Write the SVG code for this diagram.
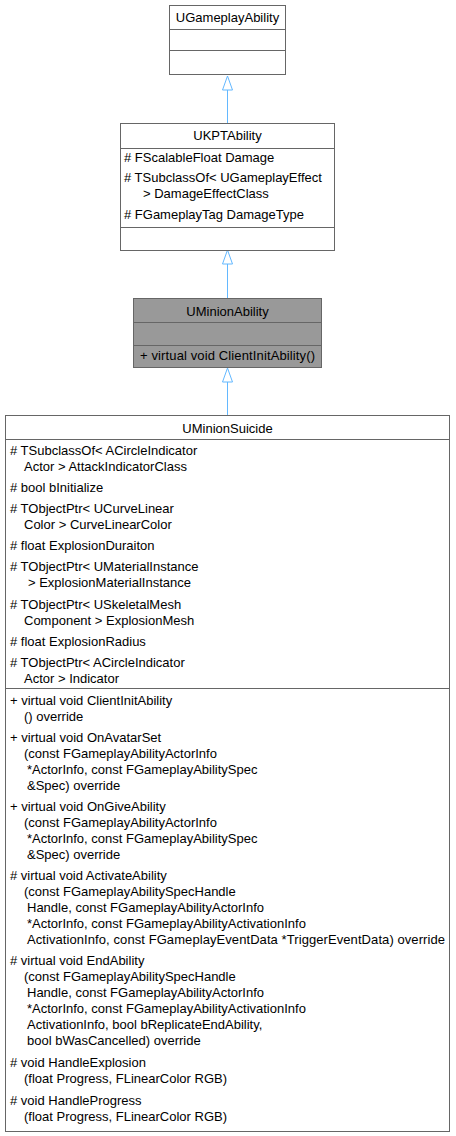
<svg xmlns="http://www.w3.org/2000/svg" width="456" height="1136" viewBox="0 0 456 1136">
<style>
.box{fill:#ffffff;stroke:#666666;stroke-width:1}
.boxg{fill:#999999;stroke:#666666;stroke-width:1}
.sep{stroke:#666666;stroke-width:1;fill:none}
text{font-family:"Liberation Sans",Arial,sans-serif;font-size:13px;fill:#000000}
.c{text-anchor:middle}
.edge{stroke:#63b8ff;stroke-width:1;fill:none}
.head{fill:#ffffff;stroke:#63b8ff;stroke-width:1}
</style>
<rect width="456" height="1136" fill="#ffffff"/>
<g id="connectors">
<line class="edge" x1="227.5" y1="90" x2="227.5" y2="123"/>
<polygon class="head" points="227.5,76 222.5,90 232.5,90"/>
<line class="edge" x1="227.5" y1="264" x2="227.5" y2="298"/>
<polygon class="head" points="227.5,250 222.5,264 232.5,264"/>
<line class="edge" x1="227.5" y1="382" x2="227.5" y2="415"/>
<polygon class="head" points="227.5,368 222.5,382 232.5,382"/>
</g>
<g id="UGameplayAbility">
<rect class="box" x="169.5" y="5.5" width="116" height="69"/>
<line class="sep" x1="169.5" y1="29.5" x2="285.5" y2="29.5"/>
<line class="sep" x1="169.5" y1="50.5" x2="285.5" y2="50.5"/>
<text class="c" x="227.5" y="22">UGameplayAbility</text>
</g>
<g id="UKPTAbility">
<rect class="box" x="120.5" y="123.5" width="214" height="127"/>
<line class="sep" x1="120.5" y1="148.5" x2="334.5" y2="148.5"/>
<line class="sep" x1="120.5" y1="227.5" x2="334.5" y2="227.5"/>
<text class="c" x="227.5" y="140">UKPTAbility</text>
<text x="124" y="162"># FScalableFloat Damage</text>
<text x="124" y="182"># TSubclassOf&lt; UGameplayEffect</text>
<text x="143" y="198">&gt; DamageEffectClass</text>
<text x="124" y="219"># FGameplayTag DamageType</text>
</g>
<g id="UMinionAbility">
<rect class="boxg" x="133.5" y="298.5" width="188" height="69"/>
<line class="sep" x1="133.5" y1="322.5" x2="321.5" y2="322.5"/>
<line class="sep" x1="133.5" y1="345.5" x2="321.5" y2="345.5"/>
<text class="c" x="227.5" y="316">UMinionAbility</text>
<text x="140" y="360" textLength="175">+ virtual void ClientInitAbility()</text>
</g>
<g id="UMinionSuicide">
<rect class="box" x="5.5" y="415.5" width="444" height="716"/>
<line class="sep" x1="5.5" y1="439.5" x2="449.5" y2="439.5"/>
<line class="sep" x1="5.5" y1="688.5" x2="449.5" y2="688.5"/>
<text class="c" x="227.5" y="433">UMinionSuicide</text>
<text x="10" y="455"># TSubclassOf&lt; ACircleIndicator</text>
<text x="24" y="471">Actor &gt; AttackIndicatorClass</text>
<text x="10" y="492"># bool bInitialize</text>
<text x="10" y="513"># TObjectPtr&lt; UCurveLinear</text>
<text x="24" y="529">Color &gt; CurveLinearColor</text>
<text x="10" y="550"># float ExplosionDuraiton</text>
<text x="10" y="571"># TObjectPtr&lt; UMaterialInstance</text>
<text x="28" y="587">&gt; ExplosionMaterialInstance</text>
<text x="10" y="609"># TObjectPtr&lt; USkeletalMesh</text>
<text x="24" y="625">Component &gt; ExplosionMesh</text>
<text x="10" y="646"># float ExplosionRadius</text>
<text x="10" y="667"># TObjectPtr&lt; ACircleIndicator</text>
<text x="24" y="683">Actor &gt; Indicator</text>
<text x="10" y="705">+ virtual void ClientInitAbility</text>
<text x="24" y="721">() override</text>
<text x="10" y="742">+ virtual void OnAvatarSet</text>
<text x="24" y="758">(const FGameplayAbilityActorInfo</text>
<text x="27" y="774">*ActorInfo, const FGameplayAbilitySpec</text>
<text x="27" y="790">&amp;Spec) override</text>
<text x="10" y="811">+ virtual void OnGiveAbility</text>
<text x="24" y="827">(const FGameplayAbilityActorInfo</text>
<text x="27" y="843">*ActorInfo, const FGameplayAbilitySpec</text>
<text x="27" y="859">&amp;Spec) override</text>
<text x="10" y="880"># virtual void ActivateAbility</text>
<text x="24" y="896">(const FGameplayAbilitySpecHandle</text>
<text x="27" y="912">Handle, const FGameplayAbilityActorInfo</text>
<text x="27" y="928">*ActorInfo, const FGameplayAbilityActivationInfo</text>
<text x="27" y="944" textLength="418">ActivationInfo, const FGameplayEventData *TriggerEventData) override</text>
<text x="10" y="965"># virtual void EndAbility</text>
<text x="24" y="981">(const FGameplayAbilitySpecHandle</text>
<text x="27" y="997">Handle, const FGameplayAbilityActorInfo</text>
<text x="27" y="1013">*ActorInfo, const FGameplayAbilityActivationInfo</text>
<text x="27" y="1029">ActivationInfo, bool bReplicateEndAbility,</text>
<text x="27" y="1045">bool bWasCancelled) override</text>
<text x="10" y="1067"># void HandleExplosion</text>
<text x="24" y="1083">(float Progress, FLinearColor RGB)</text>
<text x="10" y="1105"># void HandleProgress</text>
<text x="24" y="1121">(float Progress, FLinearColor RGB)</text>
</g>
</svg>
